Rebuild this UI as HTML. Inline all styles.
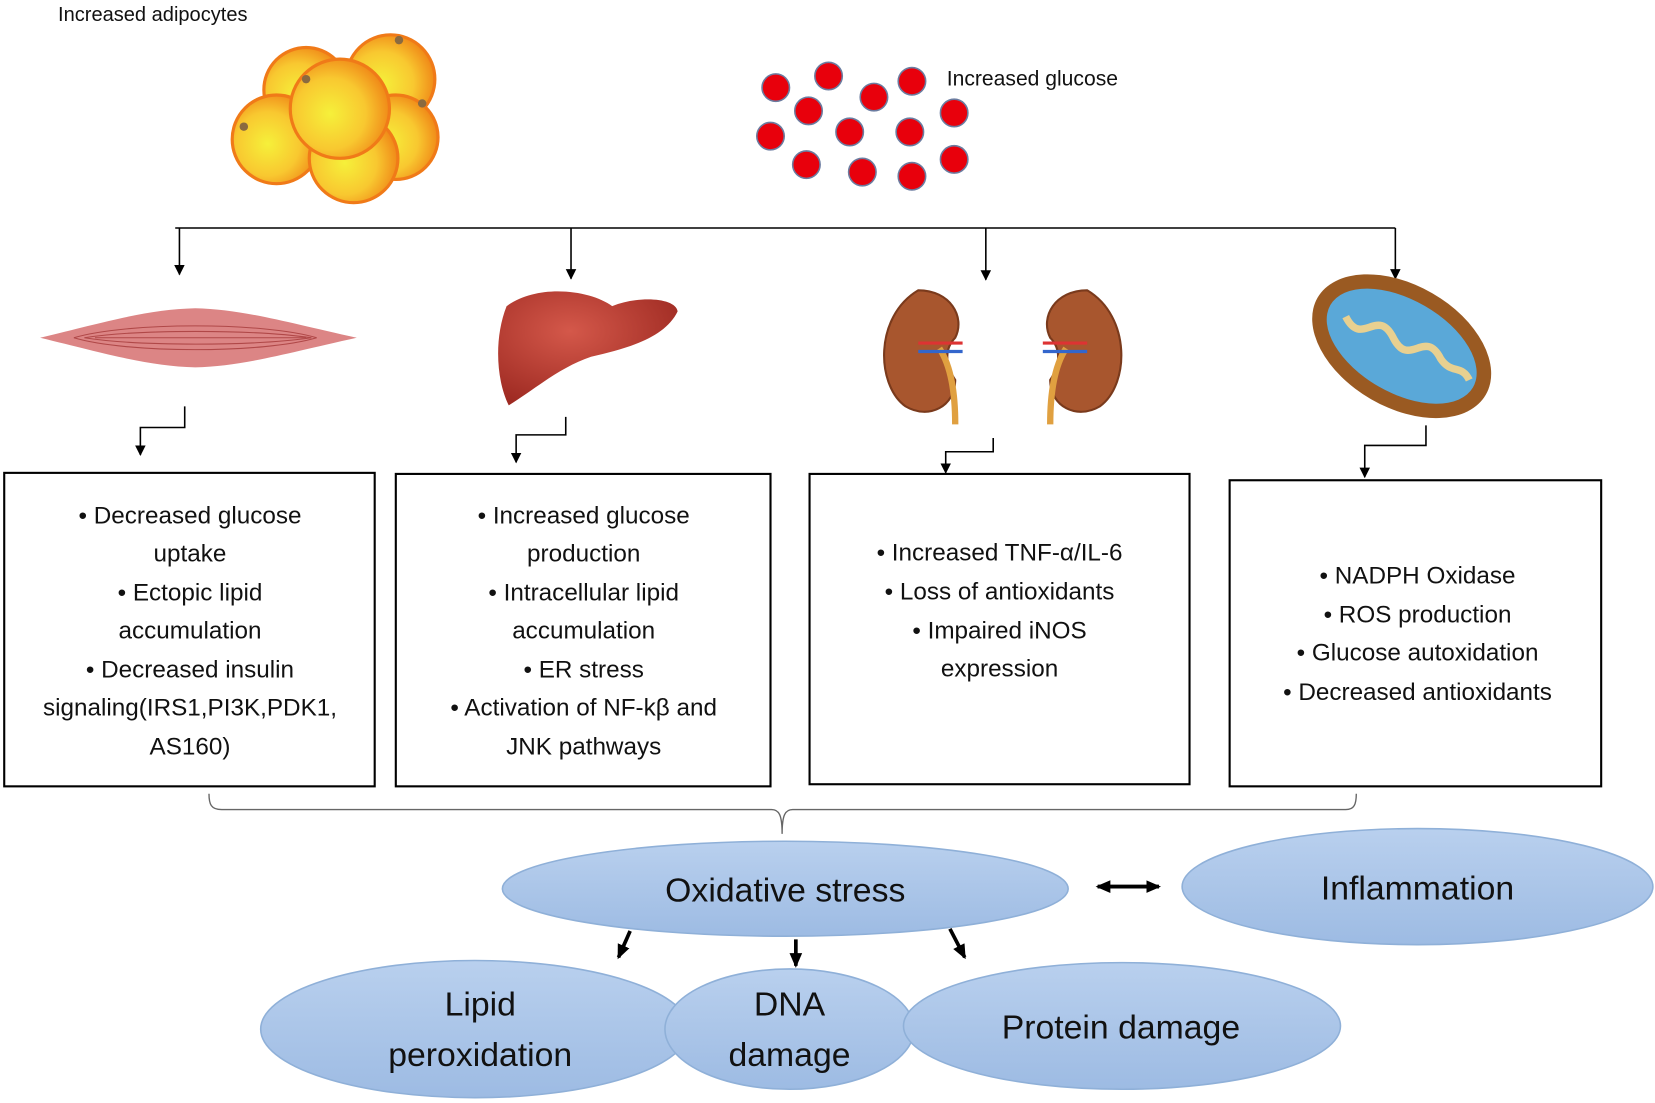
<!DOCTYPE html>
<html><head><meta charset="utf-8"><style>
html,body{margin:0;padding:0;background:#fff}
svg{display:block}
text{font-family:"Liberation Sans",sans-serif;fill:#111}
.b{font-size:23px;text-anchor:middle}
.e{font-size:32px;text-anchor:middle}
</style></head><body>
<svg width="1655" height="1103" viewBox="0 0 1568 1045" xmlns="http://www.w3.org/2000/svg">
<defs>
<radialGradient id="fat" cx="40%" cy="55%" r="60%"><stop offset="0" stop-color="#f6f03a"/><stop offset="0.6" stop-color="#f8c830"/><stop offset="1" stop-color="#f08a18"/></radialGradient>
<linearGradient id="ell" x1="0" y1="0" x2="0" y2="1"><stop offset="0" stop-color="#b9d0ee"/><stop offset="1" stop-color="#9dbbe3"/></linearGradient>
<radialGradient id="liv" cx="40%" cy="35%" r="70%"><stop offset="0" stop-color="#d4584a"/><stop offset="1" stop-color="#9e2a22"/></radialGradient>
<marker id="a" markerWidth="10" markerHeight="10" refX="9" refY="5" orient="auto" markerUnits="userSpaceOnUse"><path d="M0,0 L10,5 L0,10 z" fill="#000"/></marker>
<marker id="ah" markerWidth="14" markerHeight="14" refX="12" refY="7" orient="auto" markerUnits="userSpaceOnUse"><path d="M0,1 L14,7 L0,13 z" fill="#000"/></marker>
</defs>
<text x="55" y="20" style="font-size:19px">Increased adipocytes</text>
<g stroke="#f07a18" stroke-width="3" fill="url(#fat)">
<circle cx="370" cy="75" r="42"/><circle cx="290" cy="85" r="40"/><circle cx="375" cy="130" r="40"/>
<circle cx="262" cy="132" r="42"/><circle cx="335" cy="150" r="42"/><circle cx="322" cy="103" r="47"/>
</g>
<g fill="#8a6a40"><circle cx="378" cy="38" r="4"/><circle cx="290" cy="75" r="4"/><circle cx="231" cy="120" r="4"/><circle cx="400" cy="98" r="4"/></g>
<g fill="#e8000c" stroke="#6b7ca0" stroke-width="1.5">
<circle cx="735" cy="83" r="13"/><circle cx="785" cy="72" r="13"/><circle cx="828" cy="92" r="13"/><circle cx="864" cy="77" r="13"/>
<circle cx="766" cy="105" r="13"/><circle cx="904" cy="107" r="13"/><circle cx="730" cy="129" r="13"/><circle cx="805" cy="125" r="13"/>
<circle cx="862" cy="125" r="13"/><circle cx="764" cy="156" r="13"/><circle cx="817" cy="163" r="13"/><circle cx="864" cy="167" r="13"/><circle cx="904" cy="151" r="13"/>
</g>
<text x="897" y="81" style="font-size:20px">Increased glucose</text>
<g stroke="#000" stroke-width="1.5" fill="none">
<path d="M166,216 H1322"/>
<path d="M170,216 V260" marker-end="url(#a)"/><path d="M541,216 V264" marker-end="url(#a)"/>
<path d="M934,216 V265" marker-end="url(#a)"/><path d="M1322,216 V264" marker-end="url(#a)"/>
<path d="M175,385 V405 H133 V431" marker-end="url(#a)"/>
<path d="M536,395 V412 H489 V438" marker-end="url(#a)"/>
<path d="M941,415 V428 H896 V448" marker-end="url(#a)"/>
<path d="M1351,403 V422 H1293 V452" marker-end="url(#a)"/>
</g>
<path d="M38,320 C100,305 140,293 185,292 C230,293 270,305 338,320 C270,335 230,347 185,348 C140,347 100,335 38,320z" fill="#d87878" opacity="0.9"/>
<g stroke="#b04848" stroke-width="1" fill="none"><path d="M70,320 C120,305 250,305 300,320"/><path d="M70,320 C120,335 250,335 300,320"/><path d="M90,320 H290"/><path d="M80,320 C130,312 240,312 295,320"/><path d="M80,320 C130,328 240,328 295,320"/></g>
<path d="M480,290 C510,268 560,275 580,290 C605,280 640,282 642,295 C630,320 595,330 560,338 C530,348 505,370 482,384 C470,360 468,320 480,290z" fill="url(#liv)"/>
<g fill="#a8562e" stroke="#7a3a1c" stroke-width="2">
<path d="M870,275 C900,275 915,300 905,320 C895,330 895,345 905,360 C905,385 880,398 858,385 C830,365 828,300 870,275z"/>
<path d="M1030,275 C1000,275 985,300 995,320 C1005,330 1005,345 995,360 C995,385 1020,398 1042,385 C1070,365 1072,300 1030,275z"/>
</g>
<g stroke="#e0a040" stroke-width="6" fill="none"><path d="M890,330 C900,345 905,370 905,402"/><path d="M1010,330 C1000,345 995,370 995,402"/></g>
<g stroke="#d33" stroke-width="3"><path d="M870,325 H912"/><path d="M988,325 H1030"/></g>
<g stroke="#36c" stroke-width="3"><path d="M870,333 H912"/><path d="M988,333 H1030"/></g>
<ellipse cx="1328" cy="328" rx="92" ry="58" transform="rotate(30 1328 328)" fill="#9a5a22"/>
<ellipse cx="1328" cy="328" rx="78" ry="44" transform="rotate(30 1328 328)" fill="#5aa8d8"/>
<g stroke="#e8d090" stroke-width="7" fill="none"><path d="M1275,300 C1290,330 1305,290 1320,320 C1335,350 1350,310 1365,340 C1375,355 1385,345 1392,360"/></g>
<g fill="#fff" stroke="#000" stroke-width="2">
<rect x="4" y="448" width="351" height="297"/><rect x="375" y="449" width="355" height="296"/>
<rect x="767" y="449" width="360" height="294"/><rect x="1165" y="455" width="352" height="290"/>
</g>
<g class="b">
<text class="b" x="180" y="496">• Decreased glucose</text><text class="b" x="180" y="532">uptake</text>
<text class="b" x="180" y="569">• Ectopic lipid</text><text class="b" x="180" y="605">accumulation</text>
<text class="b" x="180" y="642">• Decreased insulin</text><text class="b" x="180" y="678">signaling(IRS1,PI3K,PDK1,</text>
<text class="b" x="180" y="715">AS160)</text>
<text class="b" x="553" y="496">• Increased glucose</text><text class="b" x="553" y="532">production</text>
<text class="b" x="553" y="569">• Intracellular lipid</text><text class="b" x="553" y="605">accumulation</text>
<text class="b" x="553" y="642">• ER stress</text><text class="b" x="553" y="678">• Activation of NF-kβ and</text>
<text class="b" x="553" y="715">JNK pathways</text>
<text class="b" x="947" y="531">• Increased TNF-α/IL-6</text><text class="b" x="947" y="568">• Loss of antioxidants</text>
<text class="b" x="947" y="605">• Impaired iNOS</text><text class="b" x="947" y="641">expression</text>
<text class="b" x="1343" y="553">• NADPH Oxidase</text><text class="b" x="1343" y="590">• ROS production</text>
<text class="b" x="1343" y="626">• Glucose autoxidation</text><text class="b" x="1343" y="663">• Decreased antioxidants</text>
</g>
<path d="M198,752 C198,762 200,767 210,767 H731 C738,767 741,772 741,790 C741,772 744,767 751,767 H1275 C1283,767 1285,762 1285,752" fill="none" stroke="#666" stroke-width="1.3"/>
<g fill="url(#ell)" stroke="#8fb0d8" stroke-width="1.5">
<ellipse cx="744" cy="842" rx="268" ry="45"/><ellipse cx="1343" cy="840" rx="223" ry="55"/>
<ellipse cx="450" cy="975" rx="203" ry="65"/><ellipse cx="748" cy="975" rx="118" ry="57"/>
<ellipse cx="1063" cy="972" rx="207" ry="60"/>
</g>
<text class="e" x="744" y="854">Oxidative stress</text><text class="e" x="1343" y="852">Inflammation</text>
<text class="e" x="455" y="962">Lipid</text><text class="e" x="455" y="1010">peroxidation</text>
<text class="e" x="748" y="962">DNA</text><text class="e" x="748" y="1010">damage</text>
<text class="e" x="1062" y="984">Protein damage</text>
<g stroke="#000" stroke-width="3.5" fill="none">
<path d="M1040,840 H1098" marker-end="url(#ah)"/><path d="M1098,840 H1040" marker-end="url(#ah)"/>
<path d="M597,882 L586,907" marker-end="url(#ah)"/><path d="M754,890 V915" marker-end="url(#ah)"/><path d="M900,880 L914,907" marker-end="url(#ah)"/>
</g>
</svg>
</body></html>
